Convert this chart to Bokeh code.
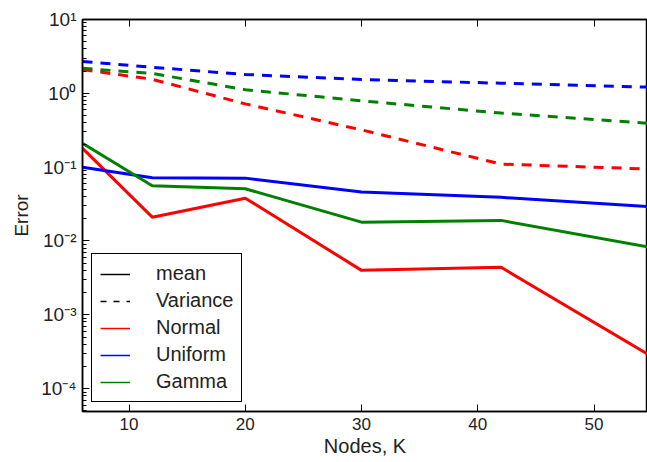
from bokeh.plotting import figure
from bokeh.models import (LinearAxis, LogTicker, CustomJSTickFormatter, Legend, LegendItem,
                          Range1d, FixedTicker)
from bokeh.embed import file_html
from bokeh.resources import INLINE

nodes = [6, 12, 20, 30, 42, 55]
normal_mean = [0.18, 0.021, 0.038, 0.0040, 0.0044, 0.00027]
uniform_mean = [0.10, 0.072, 0.071, 0.046, 0.039, 0.029]
gamma_mean = [0.21, 0.056, 0.051, 0.018, 0.019, 0.0081]
normal_var = [2.1, 1.55, 0.72, 0.32, 0.11, 0.094]
uniform_var = [2.7, 2.25, 1.8, 1.54, 1.37, 1.21]
gamma_var = [2.18, 1.86, 1.12, 0.79, 0.54, 0.39]
x_ticks = [10, 20, 30, 40, 50]

FONT = "Liberation Sans"

p = figure(width=647, height=462, y_axis_type="log", output_backend="svg",
           toolbar_location=None, x_range=Range1d(6, 54.6), y_range=Range1d(4.9e-5, 10),
           min_border_left=82, min_border_right=0, min_border_top=19, min_border_bottom=51)
p.xgrid.visible = False
p.ygrid.visible = False
p.outline_line_color = "black"
p.outline_line_width = 1.5
p.outline_line_alpha = 1

RED, BLUE, GREEN = "#ff0000", "#0000ff", "#008000"
LW = 3
p.line(nodes, normal_var, color=RED, line_width=LW, line_dash="10 8")
p.line(nodes, uniform_var, color=BLUE, line_width=LW, line_dash="10 8")
p.line(nodes, gamma_var, color=GREEN, line_width=LW, line_dash="10 8")
p.line(nodes, normal_mean, color=RED, line_width=LW)
p.line(nodes, uniform_mean, color=BLUE, line_width=LW)
p.line(nodes, gamma_mean, color=GREEN, line_width=LW)

# legend proxies (no visible data)
nan_vals = [float("nan")] * len(nodes)
r_mean = p.line(nodes, nan_vals, color="black", line_width=1.5)
r_var = p.line(nodes, nan_vals, color="black", line_width=1.5, line_dash="6 7")
r_n = p.line(nodes, nan_vals, color=RED, line_width=1.5)
r_u = p.line(nodes, nan_vals, color=BLUE, line_width=1.5)
r_g = p.line(nodes, nan_vals, color=GREEN, line_width=1.5)
legend = Legend(items=[LegendItem(label="mean", renderers=[r_mean]),
                       LegendItem(label="Variance", renderers=[r_var]),
                       LegendItem(label="Normal", renderers=[r_n]),
                       LegendItem(label="Uniform", renderers=[r_u]),
                       LegendItem(label="Gamma", renderers=[r_g])],
                location=(9, 9))
legend.border_line_color = "black"
legend.border_line_alpha = 1
legend.border_line_width = 1.5
legend.background_fill_alpha = 1
legend.label_text_font = FONT
legend.label_text_font_size = "20px"
legend.label_text_color = "#222222"
legend.glyph_width = 30
legend.glyph_height = 20
legend.label_height = 20
legend.spacing = 4
legend.padding = 8
legend.margin = 0
legend.label_standoff = 26
p.add_layout(legend, "center")

# x axis
xa = p.xaxis[0]
xa.ticker = FixedTicker(ticks=x_ticks)
xa.axis_label = "Nodes, K"
xa.axis_label_text_font = FONT
xa.axis_label_text_font_style = "normal"
xa.axis_label_text_font_size = "20px"
xa.axis_label_text_color = "#222222"
xa.axis_label_standoff = 2
xa.major_label_text_font = FONT
xa.major_label_text_font_size = "17px"
xa.major_label_text_color = "#222222"
xa.major_label_standoff = 6
xa.major_tick_in = 7
xa.major_tick_out = 0
xa.minor_tick_line_color = None
xa.axis_line_width = 1.5

# y axis
ya = p.yaxis[0]
ya.ticker = LogTicker(desired_num_ticks=7, num_minor_ticks=10)
ya.formatter = CustomJSTickFormatter(code="""
const e = Math.round(Math.log10(tick));
const sup = {'-':'\u207b','0':'\u2070','1':'\u00b9','2':'\u00b2','3':'\u00b3','4':'\u2074','5':'\u2075','6':'\u2076','7':'\u2077','8':'\u2078','9':'\u2079'};
return '10' + String(e).split('').map(c => sup[c]).join('');
""")
ya.axis_label = "Error"
ya.axis_label_text_font = FONT
ya.axis_label_text_font_style = "normal"
ya.axis_label_text_font_size = "19px"
ya.axis_label_text_color = "#222222"
ya.axis_label_standoff = 6
ya.major_label_text_font = FONT
ya.major_label_text_font_size = "19px"
ya.major_label_text_color = "#222222"
ya.major_label_standoff = 6
ya.major_tick_in = 7
ya.major_tick_out = 0
ya.minor_tick_in = 4
ya.minor_tick_out = 0
ya.axis_line_width = 1.5

# top axis with inward ticks only
top = LinearAxis(ticker=FixedTicker(ticks=x_ticks),
                 formatter=CustomJSTickFormatter(code="return '';"),
                 major_tick_in=7, major_tick_out=0, minor_tick_line_color=None,
                 axis_line_width=1.5, major_label_standoff=0)
p.add_layout(top, "above")

open("out.html", "w").write(file_html(p, INLINE))
